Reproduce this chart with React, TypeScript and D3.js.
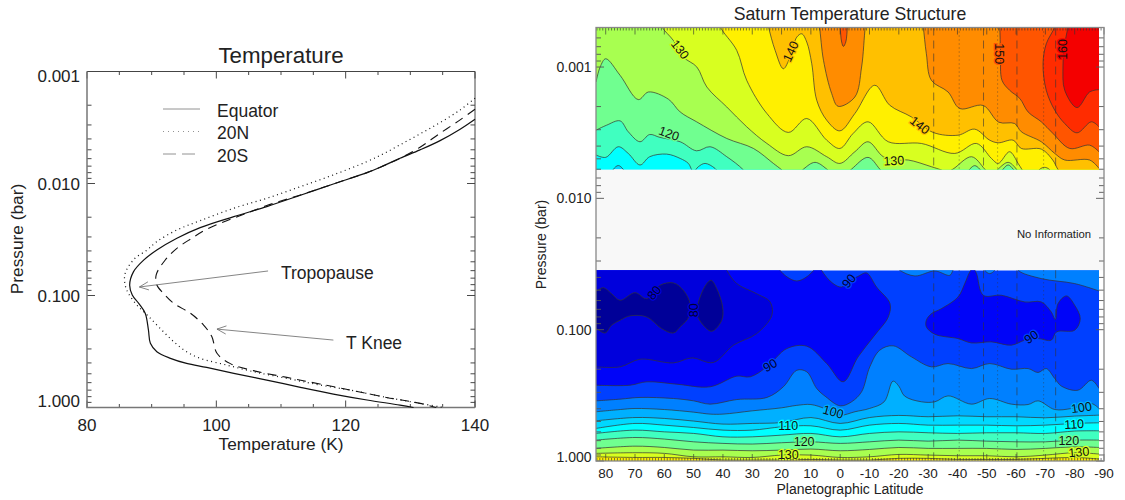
import React from 'react';
import * as d3 from 'd3';

type Pt = [number, number];

// ---------- left panel: [temperature K, log10 pressure]
const equatorProfile: Pt[] = [[140, -2.574], [137.7, -2.485], [134.6, -2.383], [131.5, -2.3], [128.4, -2.225], [125.8, -2.157], [123.3, -2.097], [118.1, -1.996], [113, -1.895], [107.8, -1.794], [102.7, -1.704], [97.5, -1.606], [93.9, -1.511], [90.8, -1.406], [88.8, -1.318], [87.2, -1.213], [86.6, -1.094], [87, -1.005], [88, -0.93], [89, -0.841], [89.5, -0.692], [89.8, -0.573], [90.8, -0.498], [92.9, -0.439], [95.4, -0.394], [98.5, -0.358], [102.7, -0.305], [107.8, -0.245], [113, -0.18], [118.1, -0.12], [123.3, -0.067], [128.4, -0.022], [130.5, 0]];
const north20Profile: Pt[] = [[140, -2.762], [137.7, -2.657], [134.6, -2.544], [131.5, -2.443], [128.4, -2.345], [125.8, -2.264], [123.3, -2.196], [118.1, -2.077], [113, -1.972], [107.8, -1.868], [102.7, -1.779], [97.5, -1.668], [93.9, -1.585], [90.8, -1.481], [89.3, -1.407], [87.3, -1.325], [85.9, -1.198], [85.9, -1.094], [86.4, -1.02], [87.7, -0.915], [89.3, -0.826], [91.3, -0.707], [93.4, -0.588], [95.4, -0.498], [97.5, -0.439], [101.6, -0.379], [105.7, -0.32], [110.9, -0.26], [116, -0.201], [121.2, -0.15], [126.3, -0.09], [131.5, -0.037], [135.1, 0]];
const south20Profile: Pt[] = [[140, -2.663], [137.7, -2.568], [134.6, -2.449], [131.5, -2.324], [128.4, -2.225], [125.8, -2.157], [123.3, -2.097], [118.1, -1.996], [113, -1.898], [107.8, -1.803], [104.7, -1.734], [101.6, -1.668], [98.5, -1.591], [96.2, -1.511], [93.9, -1.421], [92.1, -1.317], [90.7, -1.184], [90.8, -1.094], [91.8, -1.02], [93.4, -0.93], [96, -0.841], [98, -0.737], [99.3, -0.633], [100.1, -0.484], [102.1, -0.394], [105.7, -0.329], [110.9, -0.269], [116, -0.21], [121.2, -0.15], [126.3, -0.09], [131.5, -0.037], [134, 0]];

const profileSeries = [
  { name: 'Equator', points: equatorProfile, dash: '', width: 1.2 },
  { name: '20N', points: north20Profile, dash: '1 3.5', width: 1.2 },
  { name: '20S', points: south20Profile, dash: '9 6', width: 1.1 },
];

const pressureTicks = [0.001, 0.01, 0.1, 1];
const pressureLabels = ['0.001', '0.010', '0.100', '1.000'];
const tempTicks = [80, 100, 120, 140];
const latTicks = [80, 70, 60, 50, 40, 30, 20, 10, 0, -10, -20, -30, -40, -50, -60, -70, -80, -90];

const annotations = [
  { text: 'Tropopause', tip: [88.1, -1.076], tail: [108, -1.219], tx: 281, ty: 273 },
  { text: 'T Knee', tip: [100.1, -0.7], tail: [118.1, -0.602], tx: 346, ty: 343 },
];

// ---------- right panel: colour bands, one per 5 K step
const bandLevels = [80, 85, 90, 95, 100, 105, 110, 115, 120, 125, 130, 135, 140, 145, 150, 155, 160];
const bandColors = ['#000098', '#0000dc', '#0004f8', '#0040ff', '#0080ff', '#00b0ff', '#00d8ff', '#00ffff', '#40ffc0', '#70ff90', '#a8ff50', '#d8ff20', '#fff000', '#ffc000', '#ff8c00', '#ff5500', '#ff2c00', '#f40000'];

// upper part: [latitude, log10 pressure], temperature rises towards the top
const iso110: Pt[] = [[83.3, -2.09], [79, -2.09], [77.4, -2.22], [75.7, -2.25], [74, -2.22], [71.7, -2.09], [-88.3, -2.09]];
const iso115: Pt[] = [[83.3, -2.33], [80, -2.312], [75.7, -2.393], [72.3, -2.342], [68.3, -2.254], [65, -2.317], [59.2, -2.337], [54.6, -2.304], [51.8, -2.266], [50.1, -2.203], [48.4, -2.241], [46.1, -2.266], [42.7, -2.228], [40.4, -2.165], [36, -2.09], [-88.3, -2.09]];
const iso120: Pt[] = [[83.3, -2.519], [79.7, -2.557], [75.1, -2.59], [72.3, -2.507], [68.3, -2.431], [65, -2.486], [61.5, -2.464], [54.6, -2.431], [49, -2.362], [44.4, -2.393], [38.7, -2.317], [33, -2.216], [29.6, -2.115], [25, -2.09], [-88.3, -2.09]];
const iso125: Pt[] = [[83.3, -2.886], [81.9, -3], [80, -3.063], [75.1, -2.937], [68.9, -2.752], [65.4, -2.81], [58.6, -2.755], [54.6, -2.658], [49, -2.583], [38.7, -2.456], [29.6, -2.38], [22.8, -2.266], [19.9, -2.216], [16, -2.14], [12.5, -2.223], [8.6, -2.274], [4.6, -2.223], [0.5, -2.13], [-3.9, -2.223], [-9.5, -2.312], [-13.5, -2.223], [-17.5, -2.115], [-40, -2.09], [-44.2, -2.223], [-45.9, -2.249], [-47.6, -2.223], [-51.6, -2.09], [-55.6, -2.223], [-57.3, -2.254], [-59, -2.223], [-63, -2.09], [-88.3, -2.09]];
const iso130: Pt[] = [[84, -3.42], [62, -3.42], [60.9, -3.31], [56.9, -3.202], [53.5, -3.076], [48.9, -3], [45.5, -2.848], [38.7, -2.696], [31.9, -2.545], [25, -2.418], [17.7, -2.325], [11.4, -2.393], [4.6, -2.317], [0.1, -2.266], [-5, -2.355], [-9.5, -2.431], [-14.7, -2.317], [-19.2, -2.29], [-23.2, -2.292], [-31.1, -2.241], [-34.5, -2.216], [-36.3, -2.2], [-38.5, -2.223], [-44.8, -2.317], [-49.3, -2.223], [-51.6, -2.165], [-53.9, -2.223], [-57.3, -2.274], [-60.1, -2.223], [-63, -2.115], [-88.3, -2.09]];
const iso135: Pt[] = [[84, -3.42], [42, -3.42], [41, -3.31], [35.3, -3.127], [31.9, -2.899], [25, -2.646], [17.7, -2.502], [11.4, -2.608], [4.6, -2.443], [0.1, -2.38], [-4.4, -2.494], [-9.5, -2.583], [-16.4, -2.431], [-27.7, -2.418], [-39.1, -2.342], [-46.5, -2.418], [-51.6, -2.304], [-53.9, -2.266], [-57.8, -2.355], [-60.7, -2.266], [-62, -2.22], [-64, -2.15], [-66, -2.15], [-68, -2.22], [-69.7, -2.236], [-71.4, -2.22], [-73.5, -2.15], [-88.3, -2.09]];
const iso140: Pt[] = [[84, -3.42], [25.5, -3.42], [24.5, -3.31], [22.2, -3.127], [19.4, -2.987], [17.1, -3.076], [14.8, -3.228], [13.1, -3.253], [11.4, -3.19], [9.7, -3.025], [8, -2.747], [4.6, -2.595], [0.1, -2.514], [-5, -2.646], [-11.8, -2.861], [-16.9, -2.709], [-24.3, -2.62], [-31.7, -2.502], [-40.2, -2.481], [-45.9, -2.527], [-51, -2.443], [-53.9, -2.423], [-59, -2.443], [-61.8, -2.38], [-68.6, -2.375], [-72.5, -2.292], [-74.3, -2.22], [-78, -2.12], [-88.3, -2.09]];
const iso145: Pt[] = [[84, -3.42], [8, -3.42], [7.1, -3.31], [5.7, -3.051], [2.9, -2.798], [0.7, -2.701], [-5, -2.772], [-7.3, -3], [-8.6, -3.31], [-9.5, -3.42], [-27.5, -3.42], [-28.3, -3.31], [-29.4, -3.101], [-31.1, -2.899], [-36.8, -2.81], [-40.8, -2.684], [-48.8, -2.707], [-54.1, -2.58], [-59.5, -2.57], [-61.8, -2.507], [-68.6, -2.431], [-73.2, -2.342], [-76.6, -2.292], [-85.1, -2.292], [-88.3, -2.228]];
const iso150: Pt[] = [[84, -3.42], [1, -3.42], [0.1, -3.31], [-0.5, -3.19], [-1.1, -3.157], [-1.9, -3.19], [-2.5, -3.31], [-3.2, -3.42], [-53.8, -3.42], [-54.4, -3.31], [-54.7, -3.101], [-55.2, -2.899], [-57.8, -2.823], [-61.3, -2.76], [-64.1, -2.658], [-68.6, -2.583], [-72.6, -2.494], [-78.3, -2.38], [-85.1, -2.405], [-88.3, -2.355]];
const iso155: Pt[] = [[-73.6, -3.42], [-73.2, -3.31], [-70.3, -3.177], [-69.2, -3.025], [-70.3, -2.823], [-73.2, -2.671], [-76.6, -2.57], [-80.8, -2.499], [-85.7, -2.583], [-88.3, -2.545]];
const iso160: Pt[] = [[-78, -3.42], [-77.7, -3.31], [-76.4, -3.152], [-76, -3], [-76.6, -2.823], [-80.8, -2.691], [-85.1, -2.81], [-88.3, -2.828]];

const upperIsos: [number, Pt[]][] = [[110, iso110], [115, iso115], [120, iso120], [125, iso125], [130, iso130], [135, iso135], [140, iso140], [145, iso145], [150, iso150], [155, iso155], [160, iso160]];

// lower part: temperature rises towards the bottom, nearly flat lines share these latitudes
const bottomLats = [83.3, 70, 60, 50, 40, 30, 20, 10, 0, -10, -20, -30, -40, -50, -60, -70, -80, -88.3];
const press105 = [-0.306, -0.331, -0.324, -0.304, -0.281, -0.286, -0.293, -0.331, -0.286, -0.331, -0.347, -0.337, -0.344, -0.337, -0.337, -0.329, -0.342, -0.349];
const press110 = [-0.248, -0.286, -0.273, -0.255, -0.235, -0.235, -0.26, -0.268, -0.235, -0.273, -0.286, -0.273, -0.273, -0.273, -0.268, -0.273, -0.286, -0.291];
const press115 = [-0.21, -0.235, -0.222, -0.21, -0.184, -0.184, -0.197, -0.21, -0.184, -0.21, -0.222, -0.215, -0.21, -0.215, -0.215, -0.21, -0.228, -0.23];
const press120 = [-0.159, -0.179, -0.167, -0.146, -0.134, -0.129, -0.139, -0.146, -0.134, -0.146, -0.159, -0.151, -0.159, -0.151, -0.146, -0.146, -0.159, -0.159];
const press125 = [-0.096, -0.113, -0.103, -0.083, -0.083, -0.078, -0.083, -0.091, -0.078, -0.088, -0.103, -0.096, -0.096, -0.096, -0.088, -0.096, -0.108, -0.103];
const press130 = [-0.058, -0.063, -0.058, -0.032, -0.032, -0.027, -0.045, -0.045, -0.027, -0.032, -0.05, -0.045, -0.04, -0.04, -0.032, -0.045, -0.063, -0.053];
const press135 = [-0.032, -0.027, -0.027, -0.02, -0.007, -0.007, -0.007, -0.012, -0.007, -0.007, -0.02, -0.02, -0.012, -0.012, -0.012, -0.02, -0.027, -0.015];

const iso100: Pt[] = [[83.3, -0.375], [75, -0.392], [70, -0.4], [60, -0.392], [50, -0.372], [44.4, -0.357], [40, -0.357], [30, -0.382], [20, -0.405], [15, -0.423], [10, -0.43], [5, -0.397], [0, -0.349], [-5, -0.375], [-10, -0.4], [-15, -0.451], [-18, -0.608], [-20, -0.57], [-22, -0.494], [-27.7, -0.451], [-32.3, -0.451], [-36.8, -0.496], [-44.8, -0.433], [-51, -0.476], [-58.4, -0.433], [-64.1, -0.43], [-67.5, -0.458], [-73.2, -0.392], [-78.9, -0.4], [-85.7, -0.438], [-88.3, -0.4]];
const iso95: Pt[] = [[83.3, -0.458], [75, -0.471], [68.3, -0.484], [56.9, -0.476], [50, -0.458], [44.4, -0.433], [35.3, -0.468], [25, -0.484], [19.4, -0.565], [14.8, -0.691], [11.4, -0.679], [8, -0.552], [4.9, -0.489], [0, -0.42], [-3.9, -0.451], [-7.3, -0.527], [-10.1, -0.717], [-13.5, -0.844], [-18.1, -0.877], [-24.3, -0.793], [-31.1, -0.717], [-36.8, -0.742], [-44.8, -0.704], [-51, -0.742], [-58.4, -0.699], [-64.1, -0.704], [-67.5, -0.674], [-70.3, -0.704], [-73.2, -0.628], [-75.5, -0.57], [-81.1, -0.539], [-85.7, -0.615], [-88.3, -0.552]];
const hood95a: Pt[] = [[-18, -1.5], [-20.3, -1.452], [-25.5, -1.409], [-32.3, -1.447], [-37.4, -1.414], [-38.5, -1.452], [-40, -1.5]];
const hood95b: Pt[] = [[-49, -1.5], [-49.3, -1.452], [-51, -1.427], [-52.7, -1.452], [-53, -1.5]];
const hood95c: Pt[] = [[-60, -1.5], [-60.7, -1.452], [-68.6, -1.389], [-80, -1.351], [-88.3, -1.295]];
const iso90: Pt[] = [[83.3, -0.577], [71.7, -0.577], [66, -0.603], [55.8, -0.585], [44.4, -0.565], [35.3, -0.646], [30.7, -0.641], [25, -0.717], [18.2, -0.856], [11.4, -0.874], [4.6, -0.742], [-1, -0.603], [-6.1, -0.793], [-11.8, -0.958], [-16.4, -1.097], [-17, -1.198], [-12.4, -1.325], [-9, -1.432], [-6.1, -1.406], [-3, -1.371], [-0.5, -1.325], [2.4, -1.351], [6.3, -1.452], [7, -1.52], [8.5, -1.52], [9.1, -1.452], [14.8, -1.371], [20.5, -1.452], [21, -1.52]];
const island90: Pt[] = [[-29.4, -1.072], [-31.1, -1.122], [-34.5, -1.16], [-40.2, -1.249], [-42.5, -1.351], [-44.2, -1.44], [-45.3, -1.47], [-46.5, -1.427], [-48.8, -1.262], [-55, -1.262], [-63, -1.211], [-68.6, -1.211], [-72, -1.135], [-73.4, -1.077], [-74.3, -1.198], [-77.2, -1.257], [-80, -1.186], [-81.9, -1.084], [-80, -0.996], [-73.8, -0.983], [-72, -0.92], [-67.5, -0.932], [-63, -0.92], [-58.4, -0.882], [-51.6, -0.907], [-44.8, -0.899], [-40.2, -0.932], [-32.3, -0.965], [-29.4, -1.021]];
const iso85: Pt[] = [[83.3, -0.717], [75.1, -0.717], [68.3, -0.775], [56.9, -0.747], [50.6, -0.785], [43.3, -0.75], [36.4, -0.882], [28.5, -0.97], [23.3, -1.11], [23.9, -1.211], [28.5, -1.274], [35.3, -1.351], [38.7, -1.452], [39.8, -1.503]];
const island80a: Pt[] = [[85.3, -1.295], [83.3, -1.295], [80.8, -1.32], [78, -1.274], [75.1, -1.224], [70, -1.282], [66, -1.236], [61.5, -1.338], [56.9, -1.356], [53.5, -1.3], [51.2, -1.198], [51.6, -1.097], [54.6, -1.021], [56.9, -0.975], [60.9, -1.008], [66, -1.097], [71.7, -1.105], [75.1, -1.072], [78, -1.034], [80.2, -0.975], [83.3, -1.008], [85.3, -1.008]];
const island80b: Pt[] = [[44, -1.376], [42.1, -1.312], [40.1, -1.173], [40.4, -1.072], [43.8, -0.988], [46.7, -1.034], [48.9, -1.122], [47.8, -1.249], [45.5, -1.351]];

const gapLogP = [-2.22, -1.452];
const dashedLats = [-31.9, -48.9, -60.3, -73.5];
const dottedLats = [-40.6, -53.7, -69.4];

// value, latitude, log pressure, rotation
const contourLabels: [number, number, number, number][] = [
  [130, 54.6, -3.134, 52], [140, 16.9, -3.119, -65], [120, 58.4, -2.494, 20], [140, -27.2, -2.557, 38], [130, -18.3, -2.287, -3],
  [150, -54.4, -3.101, 90], [160, -76, -3.134, -90], [80, 63.5, -1.282, -50], [80, 49.9, -1.148, -90], [90, 23.9, -0.729, -30],
  [100, 2.4, -0.375, 15], [110, 17.7, -0.268, 0], [120, 12.3, -0.151, 0], [130, 17.7, -0.045, 0], [90, -3, -1.371, -50],
  [90, -65.2, -0.945, -35], [100, -82.3, -0.408, -8], [110, -79.8, -0.281, -3], [120, -78, -0.157, 0], [130, -81.4, -0.068, -5],
];

const FONT = '"Liberation Sans", Arial, sans-serif';
const bandColor = d3.scaleThreshold<number, string>().domain(bandLevels).range(bandColors);
const isDecade = (p: number) => Math.abs(Math.log10(p) - Math.round(Math.log10(p))) < 1e-6;

// left panel scales
const xTemp = d3.scaleLinear().domain([80, 140]).range([87, 475]);
const yLeft = d3.scaleLog().domain([0.001, 1]).range([71.5, 407.5]);
// right panel scales
const xLat = d3.scaleLinear().domain([80, -90]).range([605.7, 1104]);
const yRight = d3.scaleLog().domain([0.0005, 1]).range([27.5, 461]);

const px = (p: Pt): Pt => [xLat(p[0]), yRight(10 ** p[1])];
const openCurve = d3.line().curve(d3.curveCatmullRom.alpha(0.5));
const closedCurve = d3.line().curve(d3.curveCatmullRomClosed.alpha(0.5));
const zip = (lats: number[], vals: number[]): Pt[] => lats.map((l, i) => [l, vals[i]]);

const PlotRightX = xLat(-90);
const plotLeftX = 596;
const colorRightX = 1099;

function Contour({ points, closeY, fill }: { points: Pt[]; closeY: number; fill: string }) {
  const pts = points.map(px);
  const d = openCurve(pts) as string;
  const first = pts[0];
  const last = pts[pts.length - 1];
  return (
    <g>
      <path d={`${d}L${last[0]},${closeY}L${first[0]},${closeY}Z`} fill={fill} />
      <path d={d} fill="none" stroke="#333" strokeOpacity={0.7} strokeWidth={1} />
    </g>
  );
}

function Island({ points, fill }: { points: Pt[]; fill: string }) {
  return <path d={closedCurve(points.map(px)) as string} fill={fill} stroke="#333" strokeOpacity={0.7} strokeWidth={1} />;
}

function Arrow({ tip, tail }: { tip: number[]; tail: number[] }) {
  const a: Pt = [xTemp(tip[0]), yLeft(10 ** tip[1])];
  const b: Pt = [xTemp(tail[0]), yLeft(10 ** tail[1])];
  const ang = Math.atan2(b[1] - a[1], b[0] - a[0]);
  const head = (s: number): Pt => [a[0] + 10 * Math.cos(ang + s * 0.42), a[1] + 10 * Math.sin(ang + s * 0.42)];
  const h1 = head(1);
  const h2 = head(-1);
  return (
    <path d={`M${b}L${a}M${h1}L${a}L${h2}`} fill="none" stroke="#666" strokeWidth={0.8} />
  );
}

function LeftPanel() {
  const lineGen = d3.line<Pt>().x(d => xTemp(d[0])).y(d => yLeft(10 ** d[1])).curve(d3.curveCatmullRom.alpha(0.5));
  const [x0, x1] = xTemp.range();
  const [y0, y1] = yLeft.range();
  return (
    <g fontFamily={FONT} fill="#222">
      <text x={281} y={55} fontSize={22.3} textAnchor="middle" dy="0.35em">Temperature</text>
      {d3.range(80, 141, 5).map(t => {
        const len = t % 20 === 0 ? 7 : 3.5;
        return (
          <g key={t} stroke="#333" strokeWidth={0.9}>
            <line x1={xTemp(t)} x2={xTemp(t)} y1={y0} y2={y0 + len} />
            <line x1={xTemp(t)} x2={xTemp(t)} y1={y1} y2={y1 - len} />
          </g>
        );
      })}
      {yLeft.ticks().map(p => {
        const len = isDecade(p) ? 8 : 4.5;
        return (
          <g key={p} stroke="#333" strokeWidth={0.9}>
            <line x1={x0} x2={x0 + len} y1={yLeft(p)} y2={yLeft(p)} />
            <line x1={x1} x2={x1 - len} y1={yLeft(p)} y2={yLeft(p)} />
          </g>
        );
      })}
      <path d={`M${x0},${y0}H${x1}V${y1}`} fill="none" stroke="#444" strokeWidth={1} />
      <path d={`M${x0},${y0}V${y1}H${x1}`} fill="none" stroke="#777" strokeWidth={1.5} />
      {pressureTicks.map((p, i) => (
        <text key={p} x={80} y={yLeft(p) + (i === 0 ? 5 : i === 3 ? -6 : 0.5)} fontSize={17} textAnchor="end" dy="0.35em">{pressureLabels[i]}</text>
      ))}
      {tempTicks.map(t => (
        <text key={t} x={xTemp(t)} y={425} fontSize={17} textAnchor="middle" dy="0.35em">{t}</text>
      ))}
      <text x={281} y={444} fontSize={17.3} textAnchor="middle" dy="0.35em">Temperature (K)</text>
      <text transform="translate(17,239) rotate(-90)" fontSize={17.3} textAnchor="middle" dy="0.35em">Pressure (bar)</text>
      {profileSeries.map((s, i) => (
        <g key={s.name}>
          <path d={lineGen(s.points) as string} fill="none" stroke="#111" strokeWidth={s.width} strokeDasharray={s.dash} />
          <line x1={163} x2={200} y1={109 + i * 22.5} y2={109 + i * 22.5} stroke="#777" strokeWidth={0.8} strokeDasharray={s.dash === '' ? '' : s.dash === '1 3.5' ? '1 4' : '13 6'} />
          <text x={217} y={110.5 + i * 22.5} fontSize={17.5} dy="0.35em">{s.name}</text>
        </g>
      ))}
      {annotations.map(a => (
        <g key={a.text}>
          <Arrow tip={a.tip} tail={a.tail} />
          <text x={a.tx} y={a.ty} fontSize={17.5} dy="0.35em">{a.text}</text>
        </g>
      ))}
    </g>
  );
}

function RightPanel() {
  const topY = yRight.range()[0];
  const botY = yRight.range()[1];
  const gapTop = yRight(10 ** gapLogP[0]);
  const gapBot = yRight(10 ** gapLogP[1]);
  const flatIsos: [number, number[]][] = [[105, press105], [110, press110], [115, press115], [120, press120], [125, press125], [130, press130], [135, press135]];
  const markers = [
    ...dashedLats.map(l => ({ l, dash: '8 5' })),
    ...dottedLats.map(l => ({ l, dash: '1 3' })),
  ];
  return (
    <g fontFamily={FONT} fill="#222">
      <defs>
        <clipPath id="upperClip"><rect x={plotLeftX} y={topY} width={colorRightX - plotLeftX} height={gapTop - topY} /></clipPath>
        <clipPath id="lowerClip"><rect x={plotLeftX} y={gapBot} width={colorRightX - plotLeftX} height={botY - gapBot} /></clipPath>
      </defs>
      <rect x={plotLeftX} y={gapTop} width={PlotRightX - plotLeftX} height={gapBot - gapTop} fill="#f8f8f8" />

      <g clipPath="url(#upperClip)">
        <rect x={plotLeftX} y={topY} width={colorRightX - plotLeftX} height={gapTop - topY} fill={bandColor(105)} />
        {upperIsos.map(([t, pts]) => (
          <Contour key={t} points={pts} closeY={topY - 30} fill={bandColor(t)} />
        ))}
      </g>

      <g clipPath="url(#lowerClip)">
        <rect x={plotLeftX} y={gapBot} width={colorRightX - plotLeftX} height={botY - gapBot} fill={bandColor(90)} />
        <Contour points={iso95} closeY={botY + 20} fill={bandColor(95)} />
        <Contour points={iso100} closeY={botY + 20} fill={bandColor(100)} />
        {flatIsos.map(([t, vals]) => (
          <Contour key={t} points={zip(bottomLats, vals)} closeY={botY + 20} fill={bandColor(t)} />
        ))}
        <Contour points={hood95a} closeY={gapBot - 20} fill={bandColor(95)} />
        <Contour points={hood95b} closeY={gapBot - 20} fill={bandColor(95)} />
        <Contour points={hood95c} closeY={gapBot - 20} fill={bandColor(95)} />
        <Contour points={iso90} closeY={gapBot - 20} fill={bandColor(85)} />
        <Island points={island90} fill={bandColor(85)} />
        <Contour points={iso85} closeY={gapBot - 20} fill={bandColor(80)} />
        <Island points={island80a} fill={bandColor(75)} />
        <Island points={island80b} fill={bandColor(75)} />
      </g>

      {[{ a: topY, b: gapTop }, { a: gapBot, b: botY }].map(seg =>
        markers.map(m => (
          <line key={`${seg.a}-${m.l}`} x1={xLat(m.l)} x2={xLat(m.l)} y1={seg.a} y2={seg.b} stroke="#333" strokeOpacity={0.6} strokeWidth={1} strokeDasharray={m.dash} />
        ))
      )}

      {contourLabels.map(([v, lat, lp, rot], i) => {
        const [x, y] = px([lat, lp]);
        return (
          <text key={i} transform={`translate(${x},${y}) rotate(${rot})`} fontSize={12.5} textAnchor="middle" dy="0.35em" fill={v <= 90 ? '#000030' : '#111'} stroke={bandColor(v)} strokeWidth={2.5} paintOrder="stroke">{v}</text>
        );
      })}

      <text x={1054} y={234} fontSize={11.3} textAnchor="middle" dy="0.35em">No Information</text>

      {d3.range(-90, 84).map(l => {
        const len = l % 10 === 0 ? 7 : 3;
        return (
          <g key={l} stroke="#333" strokeOpacity={0.8} strokeWidth={0.8}>
            <line x1={xLat(l)} x2={xLat(l)} y1={topY} y2={topY + len} />
            <line x1={xLat(l)} x2={xLat(l)} y1={botY} y2={botY - len} />
          </g>
        );
      })}
      {yRight.ticks().map(p => {
        const len = isDecade(p) ? 8 : 5;
        return (
          <g key={p} stroke="#555" strokeWidth={0.9}>
            <line x1={plotLeftX} x2={plotLeftX + len} y1={yRight(p)} y2={yRight(p)} />
            <line x1={PlotRightX} x2={PlotRightX - len} y1={yRight(p)} y2={yRight(p)} />
          </g>
        );
      })}
      <rect x={plotLeftX} y={topY} width={PlotRightX - plotLeftX} height={botY - topY} fill="none" stroke="#888" strokeWidth={1.3} />

      <text x={850} y={14} fontSize={17.7} textAnchor="middle" dy="0.35em">Saturn Temperature Structure</text>
      {pressureTicks.map((p, i) => (
        <text key={p} x={591.5} y={yRight(p) + (i === 3 ? -4 : 0)} fontSize={14} textAnchor="end" dy="0.35em">{pressureLabels[i]}</text>
      ))}
      {latTicks.map(l => (
        <text key={l} x={xLat(l)} y={473} fontSize={13.5} textAnchor="middle" dy="0.35em">{l}</text>
      ))}
      <text x={850} y={489} fontSize={14} textAnchor="middle" dy="0.35em">Planetographic Latitude</text>
      <text transform="translate(541,244.5) rotate(-90)" fontSize={14} textAnchor="middle" dy="0.35em">Pressure (bar)</text>
    </g>
  );
}

export default function App() {
  return (
    <svg width={1125} height={500} viewBox="0 0 1125 500" style={{ position: 'absolute', left: 0, top: 0, display: 'block', background: '#fff' }}>
      <LeftPanel />
      <RightPanel />
    </svg>
  );
}
